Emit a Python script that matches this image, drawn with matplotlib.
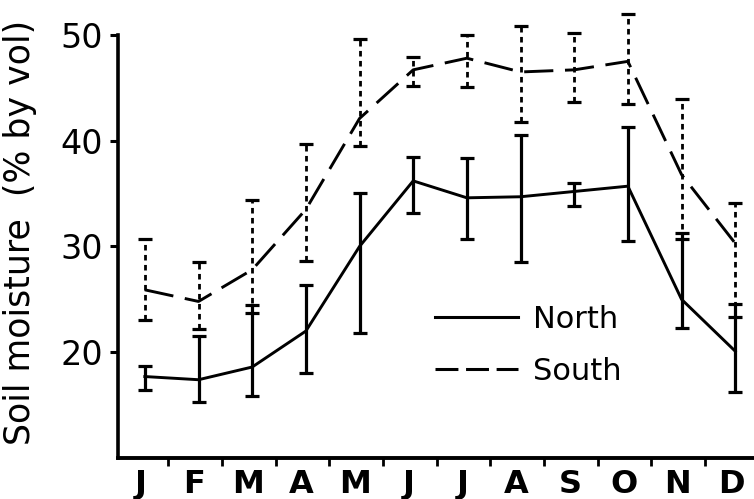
import matplotlib
matplotlib.use("Agg")
import matplotlib.pyplot as plt
import numpy as np

months = ['J', 'F', 'M', 'A', 'M', 'J', 'J', 'A', 'S', 'O', 'N', 'D']
north = [17.7, 17.4, 18.6, 22.0, 30.0, 36.2, 34.6, 34.7, 35.2, 35.7, 25.0, 20.1]
north_hi = [18.7, 21.5, 24.5, 26.4, 35.1, 38.5, 38.4, 40.5, 36.0, 41.3, 31.3, 24.6]
north_lo = [16.4, 15.3, 15.9, 18.0, 21.8, 33.2, 30.7, 28.5, 33.8, 30.5, 22.3, 16.2]
south = [25.9, 24.8, 27.8, 33.5, 42.1, 46.7, 47.8, 46.5, 46.7, 47.5, 36.8, 30.3]
south_hi = [30.7, 28.5, 34.4, 39.7, 49.6, 47.9, 50.0, 50.8, 50.2, 52.0, 43.9, 34.1]
south_lo = [23.0, 22.2, 23.7, 28.6, 39.5, 45.2, 45.1, 41.8, 43.7, 43.5, 30.7, 23.3]
yticks = [20, 30, 40, 50]

plt.rcParams['font.family'] = ['DejaVu Sans']

fig = plt.figure(figsize=(7.54, 4.99), dpi=100)
ax = fig.add_axes([0.1565, 0.0822, 0.8435, 0.8944])

x = np.arange(len(months))
n = np.array(north); s = np.array(south)
n_err = [n - np.array(north_lo), np.array(north_hi) - n]
s_err = [s - np.array(south_lo), np.array(south_hi) - s]

# North
ax.plot(x, n, color='black', lw=2.1, label='North', clip_on=False)
eb = ax.errorbar(x, n, yerr=n_err, fmt='none', ecolor='black', elinewidth=2.3,
                 capsize=4.7, capthick=2.3, clip_on=False)
for c in eb[1]:
    c.set_clip_on(False)
for c in eb[2]:
    c.set_clip_on(False)

# South
sl, = ax.plot(x, s, color='black', lw=2.1, label='South', clip_on=False)
sl.set_dashes([10, 4])
eb2 = ax.errorbar(x, s, yerr=s_err, fmt='none', ecolor='black', elinewidth=2.0,
                  capsize=4.7, capthick=2.3, clip_on=False)
for c in eb2[1]:
    c.set_clip_on(False)
for c in eb2[2]:
    c.set_clip_on(False)
    c.set_linestyle((0, (2.0, 1.6)))

ax.set_xlim(-0.5, 11.35)
ax.set_ylim(10, 52.2)

for side in ['top', 'right']:
    ax.spines[side].set_visible(False)
ax.spines['left'].set_linewidth(2.6)
ax.spines['bottom'].set_linewidth(2.8)
ax.spines['left'].set_bounds(10, 50)

ax.set_yticks(yticks)
ax.set_yticklabels([str(v) for v in yticks], fontsize=24)
ax.tick_params(axis='y', direction='out', length=6, width=2.2, pad=5)

ax.set_xticks(x[:-1] + 0.44)
ax.set_xticklabels([])
ax.tick_params(axis='x', which='major', direction='out', length=6, width=2.0)
ax.set_xticks(x - 0.08, minor=True)
ax.set_xticklabels(months, minor=True, fontsize=23, fontweight='bold',
                   family=['Liberation Sans Narrow', 'DejaVu Sans'])
ax.tick_params(axis='x', which='minor', length=0, pad=8)

ax.set_ylabel('Soil moisture  (% by vol)', fontsize=25)
ax.yaxis.set_label_coords(-0.127, 0.505)

leg = ax.legend(loc='upper left', bbox_to_anchor=(435 / 754, 1 - 305 / 499),
                bbox_transform=fig.transFigure, frameon=False, fontsize=22,
                handlelength=2.7, handletextpad=0.5, labelspacing=0.75,
                borderpad=0, borderaxespad=0)
for h in leg.get_lines():
    h.set_linewidth(2.2)
leg.get_lines()[1].set_dashes([7.5, 2.5])

fig.savefig('out.png', dpi=100)
